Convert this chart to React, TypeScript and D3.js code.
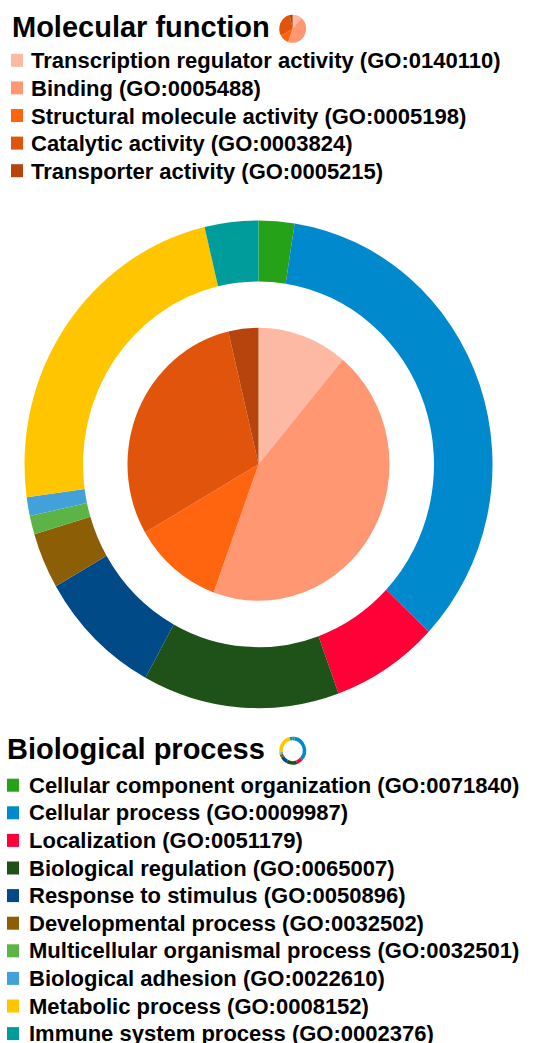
import { useMemo } from "react";
import * as d3 from "d3";

// Molecular function (inner pie)
const mfNames = [
  "Transcription regulator activity (GO:0140110)",
  "Binding (GO:0005488)",
  "Structural molecule activity (GO:0005198)",
  "Catalytic activity (GO:0003824)",
  "Transporter activity (GO:0005215)",
];
const mfCounts = [3, 12, 3, 8, 1];
const mfColors = ["#fdb9a4", "#ff9872", "#ff640f", "#e0540b", "#b8440d"];

// Biological process (outer ring)
const bpNames = [
  "Cellular component organization (GO:0071840)",
  "Cellular process (GO:0009987)",
  "Localization (GO:0051179)",
  "Biological regulation (GO:0065007)",
  "Response to stimulus (GO:0050896)",
  "Developmental process (GO:0032502)",
  "Multicellular organismal process (GO:0032501)",
  "Biological adhesion (GO:0022610)",
  "Metabolic process (GO:0008152)",
  "Immune system process (GO:0002376)",
];
const bpCounts = [2, 28, 6, 11, 7, 3, 1, 1, 19, 3];
const bpColors = ["#25a218", "#0089cc", "#ff0037", "#1f5219", "#004b87", "#8c5e05", "#5cb447", "#42a1d9", "#ffc600", "#009c9b"];

const FONT = "'Liberation Sans', Arial, Helvetica, sans-serif";

export default function App() {
  const W = 544, H = 1043;
  const cx = 258.5, cy = 464.3, sy = 1.042;
  const pie = d3.pie<number>().sort(null).value(d => d);
  const mfArcs = useMemo(() => pie(mfCounts), []);
  const bpArcs = useMemo(() => pie(bpCounts), []);
  const outer = d3.arc<d3.PieArcDatum<number>>().innerRadius(175.5).outerRadius(234);
  const inner = d3.arc<d3.PieArcDatum<number>>().innerRadius(0).outerRadius(131);
  const iconPie = d3.arc<d3.PieArcDatum<number>>().innerRadius(0).outerRadius(13.5);
  const iconRing = d3.arc<d3.PieArcDatum<number>>().innerRadius(10).outerRadius(13.5);

  const row = 27.6;
  return (
    <svg width={W} height={H} viewBox={`0 0 ${W} ${H}`} style={{ position: "absolute", left: 0, top: 0, display: "block", background: "#fff" }} fontFamily={FONT} fontWeight="bold">
      {/* Molecular function header + legend */}
      <text x={12} y={37} fontSize={29} fill="#000">Molecular function</text>
      <g transform={`translate(292.7,28.7) scale(1,${sy})`}>
        {mfArcs.map((a, i) => <path key={i} d={iconPie(a) || ""} fill={mfColors[i]} />)}
      </g>
      {mfNames.map((n, i) => (
        <g key={n} transform={`translate(0,${68.3 + i * row})`}>
          <rect x={11} y={-14.5} width={12} height={13} fill={mfColors[i]} />
          <text x={31} y={0} fontSize={22} fill="#000">{n}</text>
        </g>
      ))}

      {/* Main chart */}
      <g transform={`translate(${cx},${cy}) scale(1,${sy})`}>
        {bpArcs.map((a, i) => <path key={i} d={outer(a) || ""} fill={bpColors[i]} />)}
        {mfArcs.map((a, i) => <path key={i} d={inner(a) || ""} fill={mfColors[i]} />)}
      </g>

      {/* Biological process header + legend */}
      <text x={7} y={759.3} fontSize={29} fill="#000">Biological process</text>
      <g transform={`translate(292.7,750.7) scale(1,${sy})`}>
        {bpArcs.map((a, i) => <path key={i} d={iconRing(a) || ""} fill={bpColors[i]} />)}
      </g>
      {bpNames.map((n, i) => (
        <g key={n} transform={`translate(0,${792.7 + i * row})`}>
          <rect x={7} y={-14} width={12} height={13} fill={bpColors[i]} />
          <text x={29} y={0} fontSize={22} fill="#000">{n}</text>
        </g>
      ))}
    </svg>
  );
}
